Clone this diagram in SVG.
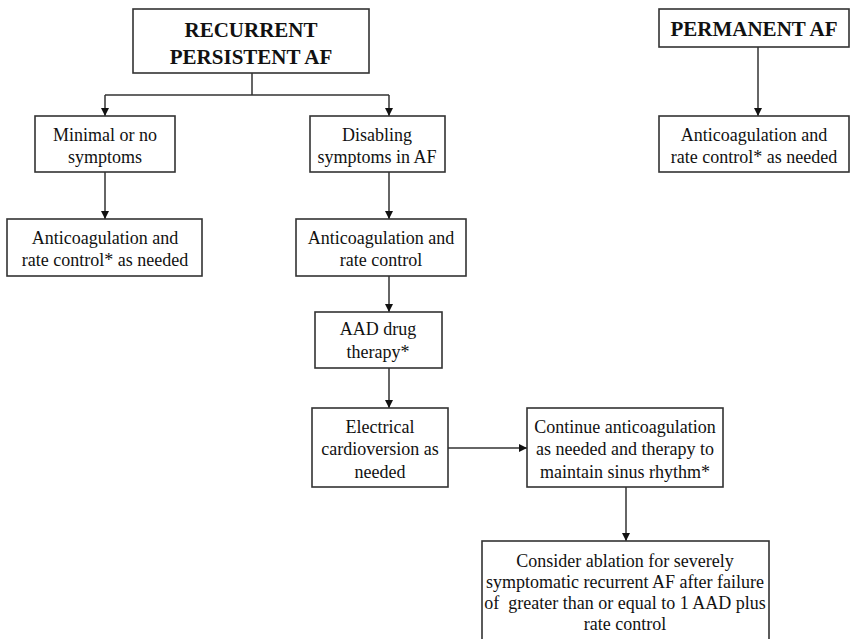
<svg xmlns="http://www.w3.org/2000/svg" width="850" height="639" viewBox="0 0 850 639">
<defs>
<marker id="ah" markerWidth="8" markerHeight="8" refX="8" refY="4" orient="auto" markerUnits="userSpaceOnUse">
<path d="M0,0 L8,4 L0,8 Z" fill="#111"/>
</marker>
<style>
.box{fill:#fff;stroke:#333;stroke-width:1.6}
.t{font-family:"Liberation Serif","Times New Roman",serif;font-size:18px;fill:#111;text-anchor:middle;dominant-baseline:central}
.h{font-family:"Liberation Serif","Times New Roman",serif;font-size:21px;font-weight:bold;fill:#111;text-anchor:middle;dominant-baseline:central}
.c{fill:none;stroke:#333;stroke-width:1.5}
.a{marker-end:url(#ah)}
</style>
</defs>
<rect width="850" height="639" fill="#fff"/>
<g id="connectors">
<path class="c" d="M252,73 V95 M105,95 H389"/>
<path class="c a" d="M105,95 V116"/>
<path class="c a" d="M389,95 V116"/>
<path class="c a" d="M105,172 V219"/>
<path class="c a" d="M389,172 V219"/>
<path class="c a" d="M389,276 V312"/>
<path class="c a" d="M389,368 V408"/>
<path class="c a" d="M448,448 H527"/>
<path class="c a" d="M626,487 V541"/>
<path class="c a" d="M758,47 V116"/>
</g>
<g id="recurrent">
<rect class="box" x="133" y="9" width="236" height="64"/>
<text class="h" x="251" y="30">RECURRENT</text>
<text class="h" x="251" y="57">PERSISTENT AF</text>
</g>
<g id="minimal">
<rect class="box" x="35" y="116" width="140" height="56"/>
<text class="t" x="105" y="135">Minimal or no</text>
<text class="t" x="105" y="157">symptoms</text>
</g>
<g id="disabling">
<rect class="box" x="310" y="116" width="135" height="56"/>
<text class="t" x="377" y="135">Disabling</text>
<text class="t" x="377" y="157">symptoms in AF</text>
</g>
<g id="anticoag-left">
<rect class="box" x="7" y="219" width="195" height="57"/>
<text class="t" x="105" y="238">Anticoagulation and</text>
<text class="t" x="105" y="260">rate control* as needed</text>
</g>
<g id="anticoag-mid">
<rect class="box" x="296" y="219" width="170" height="57"/>
<text class="t" x="381" y="238">Anticoagulation and</text>
<text class="t" x="381" y="260">rate control</text>
</g>
<g id="aad">
<rect class="box" x="315" y="312" width="127" height="56"/>
<text class="t" x="378" y="329">AAD drug</text>
<text class="t" x="378" y="352">therapy*</text>
</g>
<g id="electrical">
<rect class="box" x="312" y="408" width="136" height="79"/>
<text class="t" x="380" y="427">Electrical</text>
<text class="t" x="380" y="449">cardioversion as</text>
<text class="t" x="380" y="472">needed</text>
</g>
<g id="continue">
<rect class="box" x="527" y="408" width="196" height="79"/>
<text class="t" x="625" y="427">Continue anticoagulation</text>
<text class="t" x="625" y="449">as needed and therapy to</text>
<text class="t" x="625" y="472">maintain sinus rhythm*</text>
</g>
<g id="ablation">
<rect class="box" x="482" y="541" width="287" height="110"/>
<text class="t" x="625" y="561">Consider ablation for severely</text>
<text class="t" x="625" y="582">symptomatic recurrent AF after failure</text>
<text class="t" x="625" y="603" xml:space="preserve">of  greater than or equal to 1 AAD plus</text>
<text class="t" x="625" y="624">rate control</text>
</g>
<g id="permanent">
<rect class="box" x="659" y="9" width="190" height="38"/>
<text class="h" x="754" y="29">PERMANENT AF</text>
</g>
<g id="anticoag-right">
<rect class="box" x="659" y="116" width="190" height="56"/>
<text class="t" x="754" y="135">Anticoagulation and</text>
<text class="t" x="754" y="157">rate control* as needed</text>
</g>
</svg>
